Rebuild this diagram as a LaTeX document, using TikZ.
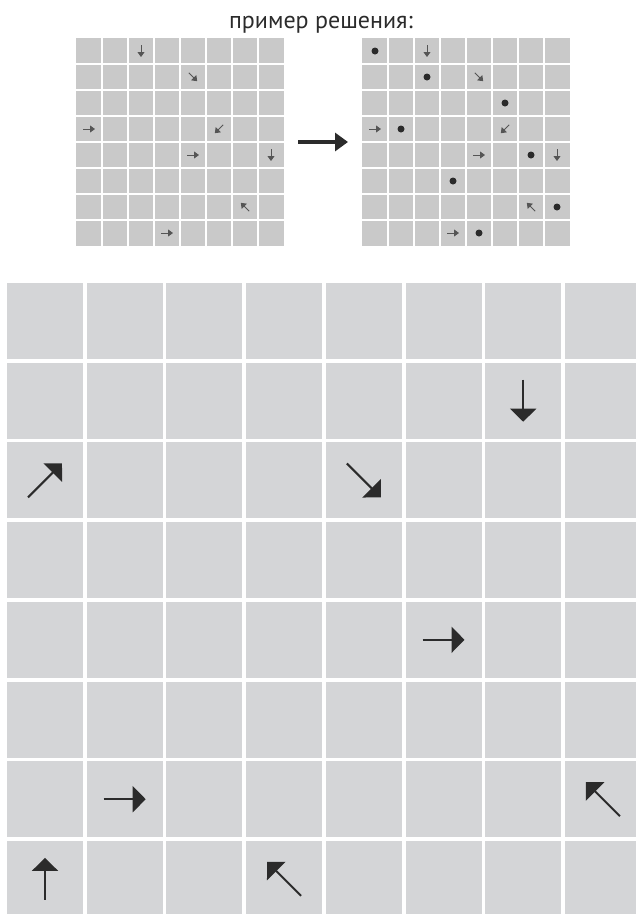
\documentclass[tikz,border=0pt]{standalone}
\usepackage{fontspec}
\setmainfont{PT Sans}
\usepackage{xcolor}
\usepackage{tikz}
\usetikzlibrary{positioning,arrows.meta,calc}

\definecolor{cellgray}{HTML}{D4D5D7}
\definecolor{smallgray}{HTML}{C9C9C9}
\definecolor{inkgray}{HTML}{2B2B2B}

\begin{document}
\begin{tikzpicture}[
x=1pt, y=1pt,
cell/.style={fill=cellgray, minimum size=76pt, inner sep=0pt, outer sep=0pt},
sgrid/.style={fill=smallgray, minimum size=208pt, inner sep=0pt, outer sep=0pt},
parr/.style={-{Triangle[width=26pt, length=13pt]}, line width=2pt, draw=inkgray},
sarr/.style={-{Triangle[width=7pt, length=5pt]}, line width=0.8pt, draw=inkgray!80},
bigarr/.style={-{Triangle[width=18pt, length=13pt]}, line width=4pt, draw=inkgray}
]
\useasboundingbox (0,0) rectangle (636,-914);
\clip (0,0) rectangle (636,-914);

% example above
\node[anchor=base, text=inkgray, font=\fontsize{24}{28}\selectfont] (title) at (321,-28) {пример решения:};
\node[sgrid] (example) at (180,-142) {};
\node[sgrid, right=78pt of example] (solution) {};
\draw[bigarr, shorten <=14pt, shorten >=14pt] (example) -- (solution);

\foreach \g in {example,solution} {
  \begin{scope}[shift={(\g.north west)}]
    \foreach \i in {1,...,7} {
      \draw[white, line width=1.5pt] (26*\i,0) -- (26*\i,-208);
      \draw[white, line width=1.5pt] (0,-26*\i) -- (208,-26*\i);
    }
    \foreach \c/\r/\a in {2/0/-90, 4/1/-45, 0/3/0, 5/3/-135, 4/4/0, 7/4/-90, 6/6/135, 3/7/0}
      \draw[sarr] ($(13+26*\c,-13-26*\r)+(\a+180:6)$) -- ++(\a:12);
  \end{scope}
}
\begin{scope}[shift={(solution.north west)}]
  \foreach \c/\r in {0/0, 2/1, 5/2, 1/3, 6/4, 3/5, 7/6, 4/7}
    \fill[inkgray] (13+26*\c,-13-26*\r) circle (3.5pt);
\end{scope}

% the puzzle
\foreach \r in {0,...,7}
  \foreach \c in {0,...,7}
    \node[cell] (c-\r-\c) at (45+79.7*\c,-321-79.7*\r) {};

\foreach \r/\c/\a/\l in {1/6/-90/21, 2/0/45/24, 2/4/-45/24, 4/5/0/21, 6/1/0/21, 6/7/135/24, 7/0/90/21, 7/3/135/24}
  \draw[parr] ($(c-\r-\c)+(\a+180:\l)$) -- ($(c-\r-\c)+(\a:\l)$);
\end{tikzpicture}
\end{document}
